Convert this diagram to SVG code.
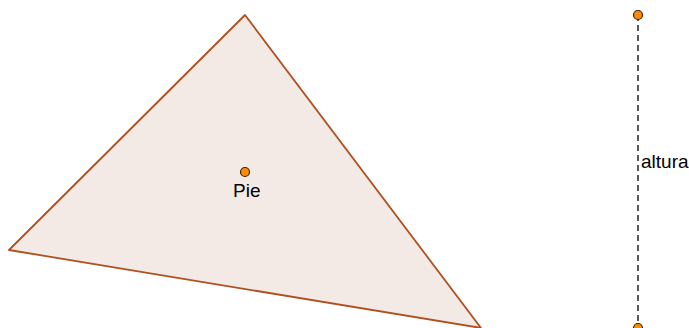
<svg xmlns="http://www.w3.org/2000/svg" width="689" height="328" viewBox="0 0 689 328">
<style>
.pt{fill:#ff8c00;stroke:#3a2410;stroke-width:1.2}
.lbl{font-family:"Liberation Sans",Arial,sans-serif;font-size:19px;fill:#000}
</style>
<rect width="689" height="328" fill="#fff"/>
<g id="triangle">
<polygon points="245,15 9,250 481,328" fill="#f3e9e5" stroke="#b0501f" stroke-width="1.8" stroke-linejoin="round"/>
</g>
<g id="connectors">
<line x1="638" y1="15" x2="638" y2="328" stroke="#222" stroke-width="1.5" stroke-dasharray="6,4"/>
</g>
<g id="pie">
<circle class="pt" cx="245" cy="172" r="4.5"/>
<text class="lbl" x="233" y="197">Pie</text>
</g>
<g id="top">
<circle class="pt" cx="638" cy="15" r="4.5"/>
</g>
<g id="bottom">
<circle class="pt" cx="638" cy="328" r="4.5"/>
</g>
<g id="altura-label">
<text class="lbl" x="641" y="168">altura</text>
</g>
</svg>
